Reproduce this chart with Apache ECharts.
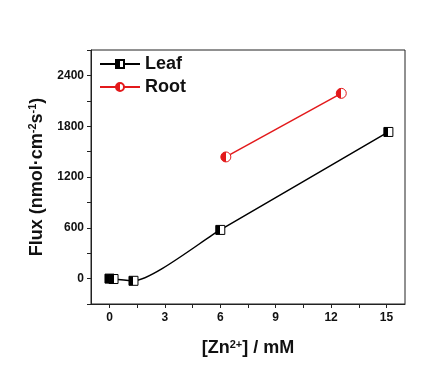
<!DOCTYPE html>
<html><head><meta charset="utf-8">
<script src="https://cdn.jsdelivr.net/npm/echarts@6/dist/echarts.min.js"></script>
<style>html,body{margin:0;padding:0;background:#fff}#c{width:444px;height:373px}</style>
</head><body><div id="c"></div>
<script>
var leafX = [0, 0.22, 1.3, 6.0, 15.1];
var leafY = [0, -5, -26, 575, 1732];
var rootX = [6.3, 12.55];
var rootY = [1437, 2188];
var xTickLabels = [0, 3, 6, 9, 12, 15];
var xMinorTicks = [0, 1.5, 3, 4.5, 6, 7.5, 9, 10.5, 12, 13.5, 15];
var yTickLabels = [0, 600, 1200, 1800, 2400];

function halfFill(c) {
  return {type:'linear', x:0, y:0, x2:1, y2:0, colorStops:[
    {offset:0, color:c},{offset:0.5, color:c},{offset:0.5, color:'#fff'},{offset:1, color:'#fff'}]};
}
var font = 'Arial, "Liberation Sans", sans-serif';
var chart = echarts.init(document.getElementById('c'));
chart.setOption({
  animation:false,
  backgroundColor:'#fff',
  grid:{left:91, right:39, top:50, bottom:69, show:true, borderColor:'#222', borderWidth:1, backgroundColor:'transparent'},
  legend:{
    orient:'vertical', left:94, top:50, itemWidth:40, itemHeight:10, itemGap:5,
    textStyle:{fontFamily:font, fontWeight:'bold', fontSize:18, color:'#111'},
    data:['Leaf','Root']
  },
  xAxis:[{
    type:'value', position:'bottom', min:-1, max:16,
    axisLine:{show:true, onZero:false, lineStyle:{color:'#222', width:1}},
    axisTick:{show:true, customValues:xMinorTicks, length:4, lineStyle:{color:'#222'}},
    axisLabel:{customValues:xTickLabels, margin:8, fontFamily:font, fontWeight:'bold', fontSize:12, color:'#111'},
    splitLine:{show:false},
    name:'[Zn{sup|2+}] / mM', nameLocation:'middle', nameGap:35,
    nameTextStyle:{fontFamily:font, fontWeight:'bold', fontSize:18, color:'#111',
      rich:{sup:{fontFamily:font, fontWeight:'bold', fontSize:11, color:'#111', verticalAlign:'top', padding:[0,0,8,0]}}}
  }],
  yAxis:[{
    type:'value', position:'left', min:-300, max:2700, interval:300,
    axisLine:{show:true, onZero:false, lineStyle:{color:'#222', width:1}},
    axisTick:{show:true, length:4, lineStyle:{color:'#222'}},
    axisLabel:{margin:7, fontFamily:font, fontWeight:'bold', fontSize:12, color:'#111',
      formatter:function(v){ return (v % 600 === 0 && v >= 0 && v <= 2400) ? String(v) : ''; }},
    splitLine:{show:false},
    name:'Flux (nmol·cm{sup|-2}s{sup|-1})', nameLocation:'middle', nameGap:36,
    nameTextStyle:{fontFamily:font, fontWeight:'bold', fontSize:18, color:'#111',
      rich:{sup:{fontFamily:font, fontWeight:'bold', fontSize:11, color:'#111', verticalAlign:'top', padding:[0,0,8,0]}}}
  }],
  series:[{
    name:'Leaf', type:'line', smooth:0.2,
    data:leafX.map(function(x,i){return [x, leafY[i]];}),
    symbol:'rect', symbolSize:9,
    lineStyle:{color:'#000', width:1.5},
    itemStyle:{color:halfFill('#000'), borderColor:'#000', borderWidth:1}
  },{
    name:'Root', type:'line',
    data:rootX.map(function(x,i){return [x, rootY[i]];}),
    symbol:'circle', symbolSize:10,
    lineStyle:{color:'#e3191b', width:1.5},
    itemStyle:{color:halfFill('#e3191b'), borderColor:'#e3191b', borderWidth:1}
  }]
});
</script></body></html>
